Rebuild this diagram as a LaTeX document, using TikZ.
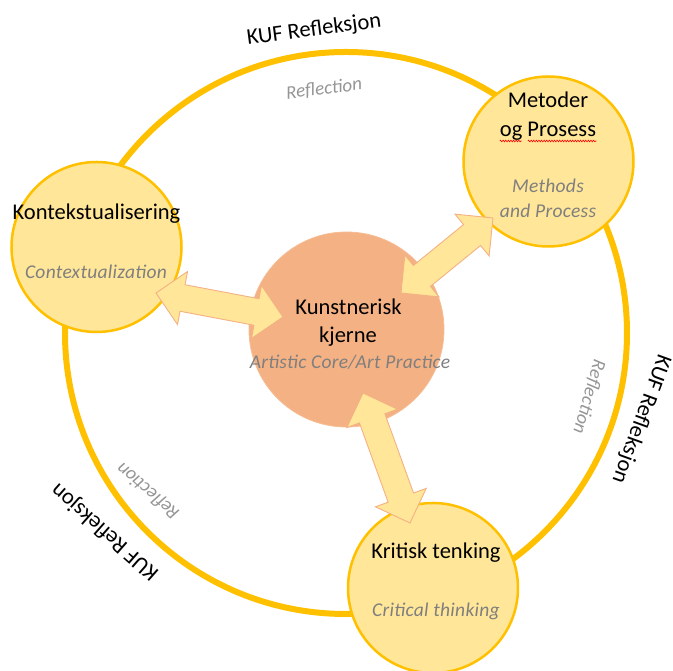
\documentclass[tikz,border=0pt]{standalone}
\usepackage{fontspec}
\setmainfont{Carlito}
\usetikzlibrary{calc,decorations.pathmorphing}
\definecolor{ringc}{HTML}{FFC000}
\definecolor{softy}{HTML}{FFE699}
\definecolor{corec}{HTML}{F4B183}
\definecolor{arredge}{HTML}{F4B183}
\definecolor{subg}{HTML}{7F7F7F}
\definecolor{reflg}{HTML}{959595}
\newcommand\dblarrow[2]{%
  \draw[blockarrow] (#1)
    -- ($(#1)!27pt!(#2)!27pt!90:(#2)$)
    -- ($(#1)!27pt!(#2)!13.5pt!90:(#2)$)
    -- ($(#2)!27pt!(#1)!13.5pt!-90:(#1)$)
    -- ($(#2)!27pt!(#1)!27pt!-90:(#1)$)
    -- (#2)
    -- ($(#2)!27pt!(#1)!27pt!90:(#1)$)
    -- ($(#2)!27pt!(#1)!13.5pt!90:(#1)$)
    -- ($(#1)!27pt!(#2)!13.5pt!-90:(#2)$)
    -- ($(#1)!27pt!(#2)!27pt!-90:(#2)$)
    -- cycle;}
\tikzset{
  ringline/.style={draw=ringc, line width=6pt},
  minor/.style={circle, draw=ringc, line width=2.5pt, fill=softy, minimum size=170pt, inner sep=0pt},
  corenode/.style={circle, draw=corec!85!white, line width=0.8pt, fill=corec, minimum size=195pt, inner sep=0pt},
  blockarrow/.style={fill=softy, draw=arredge, line width=0.9pt, line join=miter},
  mainlbl/.style={font=\fontsize{22.5}{27}\selectfont, text=black, anchor=base, inner sep=0pt},
  sublbl/.style={font=\fontsize{19.5}{24}\selectfont\itshape\addfontfeature{LetterSpace=1.5}, text=subg, anchor=base, inner sep=0pt},
  kuf/.style={font=\fontsize{22.5}{27}\selectfont, text=black, inner sep=0pt},
  refl/.style={font=\fontsize{19}{23}\selectfont\itshape, text=reflg, inner sep=0pt},
  spell/.style={draw=red, line width=0.6pt, decorate, decoration={snake, segment length=2.6pt, amplitude=0.8pt}}
}
\begin{document}
\begin{tikzpicture}[x=1pt,y=1pt]
\useasboundingbox (0,0) rectangle (673,671);
% outer ring
\node[circle, ringline, minimum size=562pt, inner sep=0pt] (ring) at (346,338) {};
% circles
\node[minor] (ctx) at (96.5,424) {};
\node[minor] (met) at (548.5,509.5) {};
\node[minor] (crit) at (433,83) {};
\node[corenode] (core) at (346.5,341.5) {};
% arrow tips
\coordinate (t1a) at (156,378);
\coordinate (t1b) at (283,354);
\coordinate (t2a) at (401,378);
\coordinate (t2b) at (493,453);
\coordinate (t3a) at (363,278);
\coordinate (t3b) at (410,148);
\dblarrow{t1a}{t1b}
\dblarrow{t2a}{t2b}
\dblarrow{t3a}{t3b}
% labels
\node[mainlbl] (ctxl) at (96.5,451) {Kontekstualisering};
\node[sublbl] (ctxs) at (96,392) {Contextualization};
\node[mainlbl] (metl1) at (548,563) {Metoder};
\node[mainlbl] (metl2) at (548,534) {og Prosess};
\node[sublbl] (mets1) at (548,478) {Methods};
\node[sublbl] (mets2) at (548,453) {and Process};
\node[mainlbl] (corel1) at (348.5,356) {Kunstnerisk};
\node[mainlbl] (corel2) at (348,328) {kjerne};
\node[sublbl] (cores) at (350,302) {Artistic Core/Art Practice};
\node[mainlbl] (critl) at (436,112) {Kritisk tenking};
\node[sublbl] (crits) at (436,54) {Critical thinking};
% spelling marks
\draw[spell] ($(metl2.base west)+(0,-4)$) -- ($(metl2.base west)+(22,-4)$);
\draw[spell] ($(metl2.base west)+(28,-4)$) -- ($(metl2.base east)+(0,-4)$);
% ring texts
\node[kuf, rotate=7.5] (kuftop) at (314,641) {KUF Refleksjon};
\node[refl, rotate=7] (refltop) at (324,582) {Reflection};
\node[kuf, rotate=-110] (kufright) at (641,252) {KUF Refleksjon};
\node[refl, rotate=-106] (reflright) at (589,274) {Reflection};
\node[kuf, rotate=138.6] (kufleft) at (105,139.5) {KUF Refleksjon};
\node[refl, rotate=139] (reflleft) at (148,180) {Reflection};
\end{tikzpicture}
\end{document}
